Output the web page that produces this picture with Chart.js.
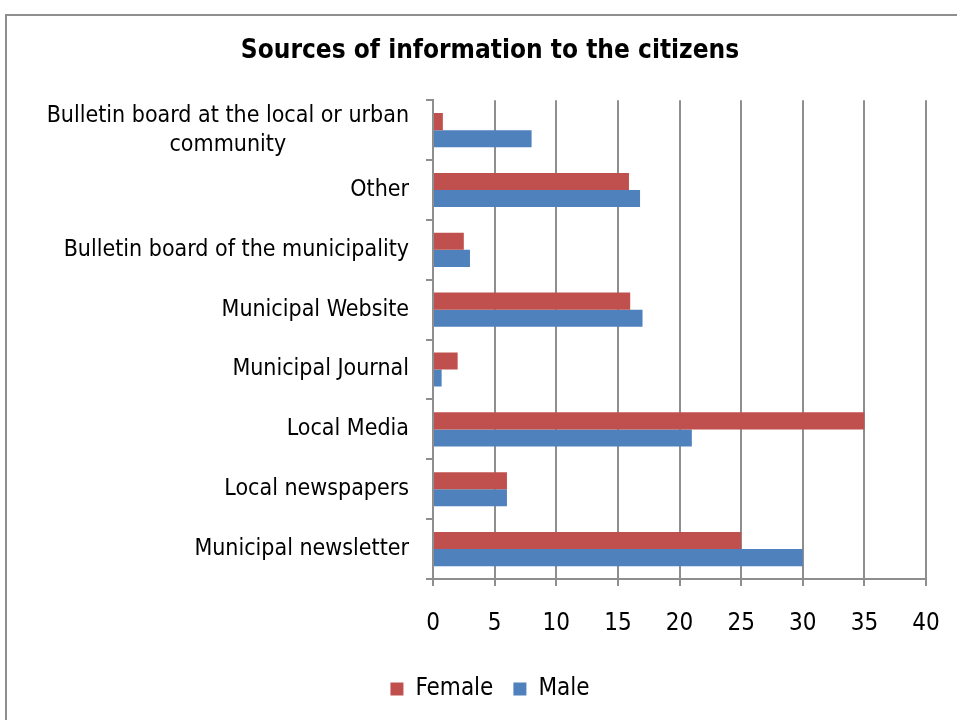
<!DOCTYPE html>
<html lang="en">
<head>
  <meta charset="UTF-8">
  <title>Sources of information to the citizens</title>
  <script src="https://cdn.jsdelivr.net/npm/chart.js"></script>
  <style>
    body {
      margin: 0;
      background: #fff;
      overflow: hidden;
    }
    .frame {
      position: absolute;
      left: 5px;
      top: 14px;
      width: 1000px;
      height: 800px;
      border-left: 2px solid #8e8e8e;
      border-top: 2px solid #8e8e8e;
    }
    .chart-box {
      position: absolute;
      left: 0;
      top: 0;
    }
  </style>
</head>
<body>
  <div class="frame"></div>
  <div class="chart-box">
    <canvas id="sourcesChart" width="980" height="720"></canvas>
  </div>
  <script>
    // Categories listed top to bottom
    const categories = [
      ['Bulletin board at the local or urban', 'community'],
      'Other',
      'Bulletin board of the municipality',
      'Municipal Website',
      'Municipal Journal',
      'Local Media',
      'Local newspapers',
      'Municipal newsletter'
    ];
    const femaleValues = [0.8, 15.9, 2.5, 16, 2, 35, 6, 25];
    const maleValues = [8, 16.8, 3, 17, 0.7, 21, 6, 30];
    const xMin = 0;
    const xMax = 40;
    const xStep = 5;

    const FONT = "'DejaVu Sans Condensed', 'DejaVu Sans', sans-serif";
    const GRID = '#8e8e8e';

    // Category labels: right aligned to the axis, wrapped lines centred on each other
    const yLabelsPlugin = {
      id: 'yLabels',
      afterDraw(chart) {
        const ctx = chart.ctx;
        const scale = chart.scales.y;
        ctx.save();
        ctx.font = '23px ' + FONT;
        ctx.fillStyle = '#000';
        ctx.textAlign = 'center';
        ctx.textBaseline = 'middle';
        const right = scale.right - 24;
        const lineH = 29;
        categories.forEach((label, i) => {
          const lines = Array.isArray(label) ? label : [label];
          const w = Math.max(...lines.map(l => ctx.measureText(l).width));
          const cy = scale.getPixelForTick(i);
          const top = cy - (lines.length - 1) * lineH / 2;
          lines.forEach((l, j) => ctx.fillText(l, right - w / 2, top + j * lineH));
        });
        ctx.restore();
      }
    };

    const ctx = document.getElementById('sourcesChart').getContext('2d');
    new Chart(ctx, {
      type: 'bar',
      data: {
        labels: categories,
        datasets: [
          {
            label: 'Female',
            data: femaleValues,
            backgroundColor: '#C0504D',
            borderWidth: 0,
            categoryPercentage: 0.57,
            barPercentage: 1
          },
          {
            label: 'Male',
            data: maleValues,
            backgroundColor: '#4F81BD',
            borderWidth: 0,
            categoryPercentage: 0.57,
            barPercentage: 1
          }
        ]
      },
      options: {
        indexAxis: 'y',
        responsive: false,
        animation: false,
        layout: { padding: { left: 54, right: 54, top: 0, bottom: 9 } },
        plugins: {
          title: {
            display: true,
            text: 'Sources of information to the citizens',
            color: '#000',
            font: { family: FONT, size: 26, weight: 'bold' },
            padding: { top: 36, bottom: 33 }
          },
          legend: {
            position: 'bottom',
            labels: {
              color: '#000',
              font: { family: FONT, size: 24 },
              boxWidth: 13,
              boxHeight: 13,
              padding: 20
            }
          },
          tooltip: { enabled: false }
        },
        scales: {
          x: {
            min: xMin,
            max: xMax,
            ticks: {
              stepSize: xStep,
              color: '#000',
              font: { family: FONT, size: 24 },
              padding: 23
            },
            grid: { color: GRID, lineWidth: 2, tickLength: 7 },
            border: { color: GRID, width: 2 },
            afterFit: s => { s.height = 78; }
          },
          y: {
            ticks: { display: false },
            grid: { color: GRID, lineWidth: 2, drawOnChartArea: false, tickLength: 7 },
            border: { color: GRID, width: 2 },
            afterFit: s => { s.width = 379; }
          }
        }
      },
      plugins: [yLabelsPlugin]
    });
  </script>
</body>
</html>
